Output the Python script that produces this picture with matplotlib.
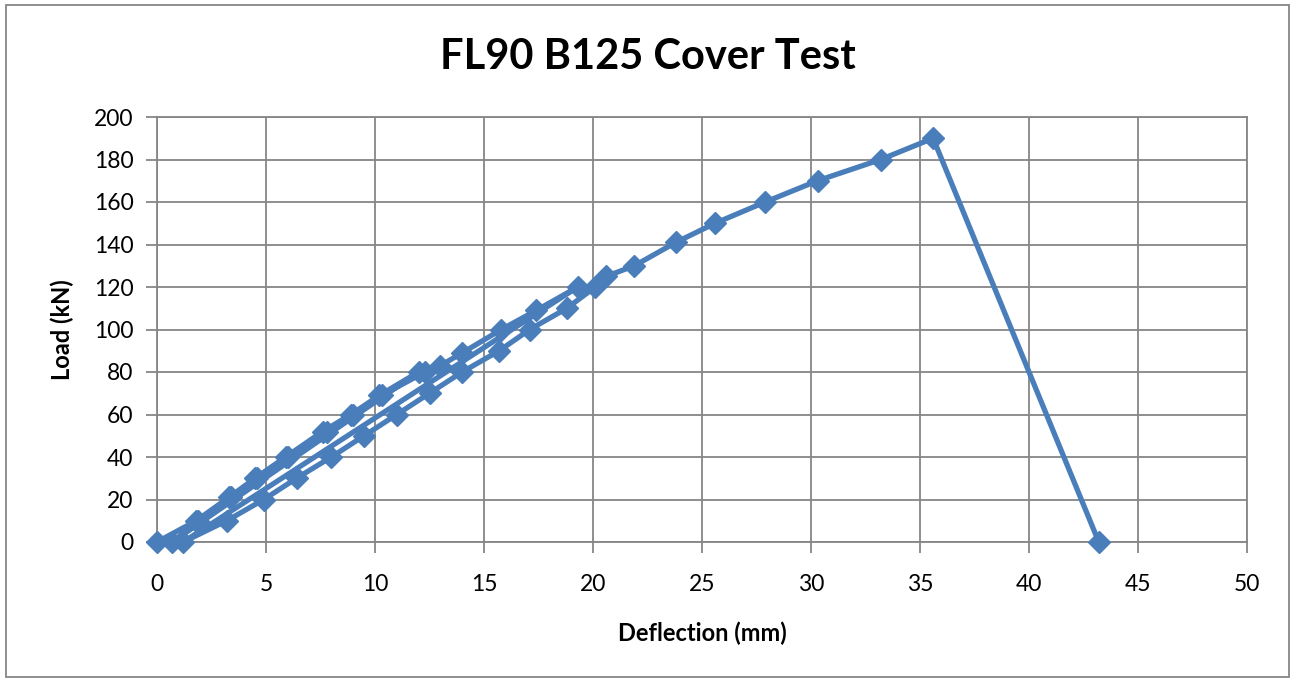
import matplotlib
matplotlib.use("Agg")
import matplotlib.pyplot as plt
from matplotlib.patches import Rectangle

deflection = [0, 1.8, 3.3, 4.5, 5.9, 7.6, 8.9, 10.2, 12.0,
              0.7, 1.9, 3.4, 4.6, 6.0, 7.8, 9.0, 10.3, 12.3, 13.0, 14.0, 15.8, 17.4, 19.3,
              1.2, 3.2, 4.9, 6.4, 8.0, 9.5, 11.0, 12.5, 14.0, 15.7, 17.1, 18.8, 20.1,
              20.6, 21.9, 23.8, 25.6, 27.9, 30.3, 33.2, 35.6, 43.2]
load = [0, 10, 21, 30, 40, 52, 60, 69, 80,
        0, 10, 21, 30, 40, 52, 60, 69, 80, 83, 89, 100, 109, 120,
        0, 10, 20, 30, 40, 50, 60, 70, 80, 90, 100, 110, 120,
        125, 130, 141, 150, 160, 170, 180, 190, 0]

title = "FL90 B125 Cover Test"
xlabel = "Deflection (mm)"
ylabel = "Load (kN)"

plt.rcParams['font.family'] = ['Lato', 'DejaVu Sans']
fig = plt.figure(figsize=(12.96, 6.81), dpi=100)
ax = fig.add_axes([157/1296, 1-542/681, 1090/1296, 425/681])

color = '#4a7ebb'
ax.plot(deflection, load, color=color, lw=3.8, marker='D', ms=11,
        markerfacecolor=color, markeredgecolor=color, zorder=3, clip_on=False)

ax.set_xlim(0, 50)
ax.set_ylim(0, 200)
ax.set_xticks(range(0, 51, 5))
ax.set_yticks(range(0, 201, 20))
grid_c = '#868686'
ax.grid(True, color=grid_c, lw=1.3)
ax.set_axisbelow(True)
for s in ax.spines.values():
    s.set_color(grid_c)
    s.set_linewidth(1.3)
ax.tick_params(axis='both', direction='out', length=8, width=1.3, color=grid_c,
               labelsize=16.5)
ax.tick_params(axis='x', pad=15)
ax.tick_params(axis='y', pad=9)
ax.set_xlabel(xlabel, fontsize=17, fontweight='bold', labelpad=19)
ax.set_ylabel(ylabel, fontsize=17, fontweight='bold', labelpad=14)
fig.text(648/1296, 1-57/681, title, fontsize=30, fontweight='bold',
         ha='center', va='center')

fig.patches.append(Rectangle((6/1296, 4/681), 1283/1296, 672/681, transform=fig.transFigure,
                             fill=False, edgecolor='#868686', lw=1.3))
fig.savefig("out.png", dpi=100)
